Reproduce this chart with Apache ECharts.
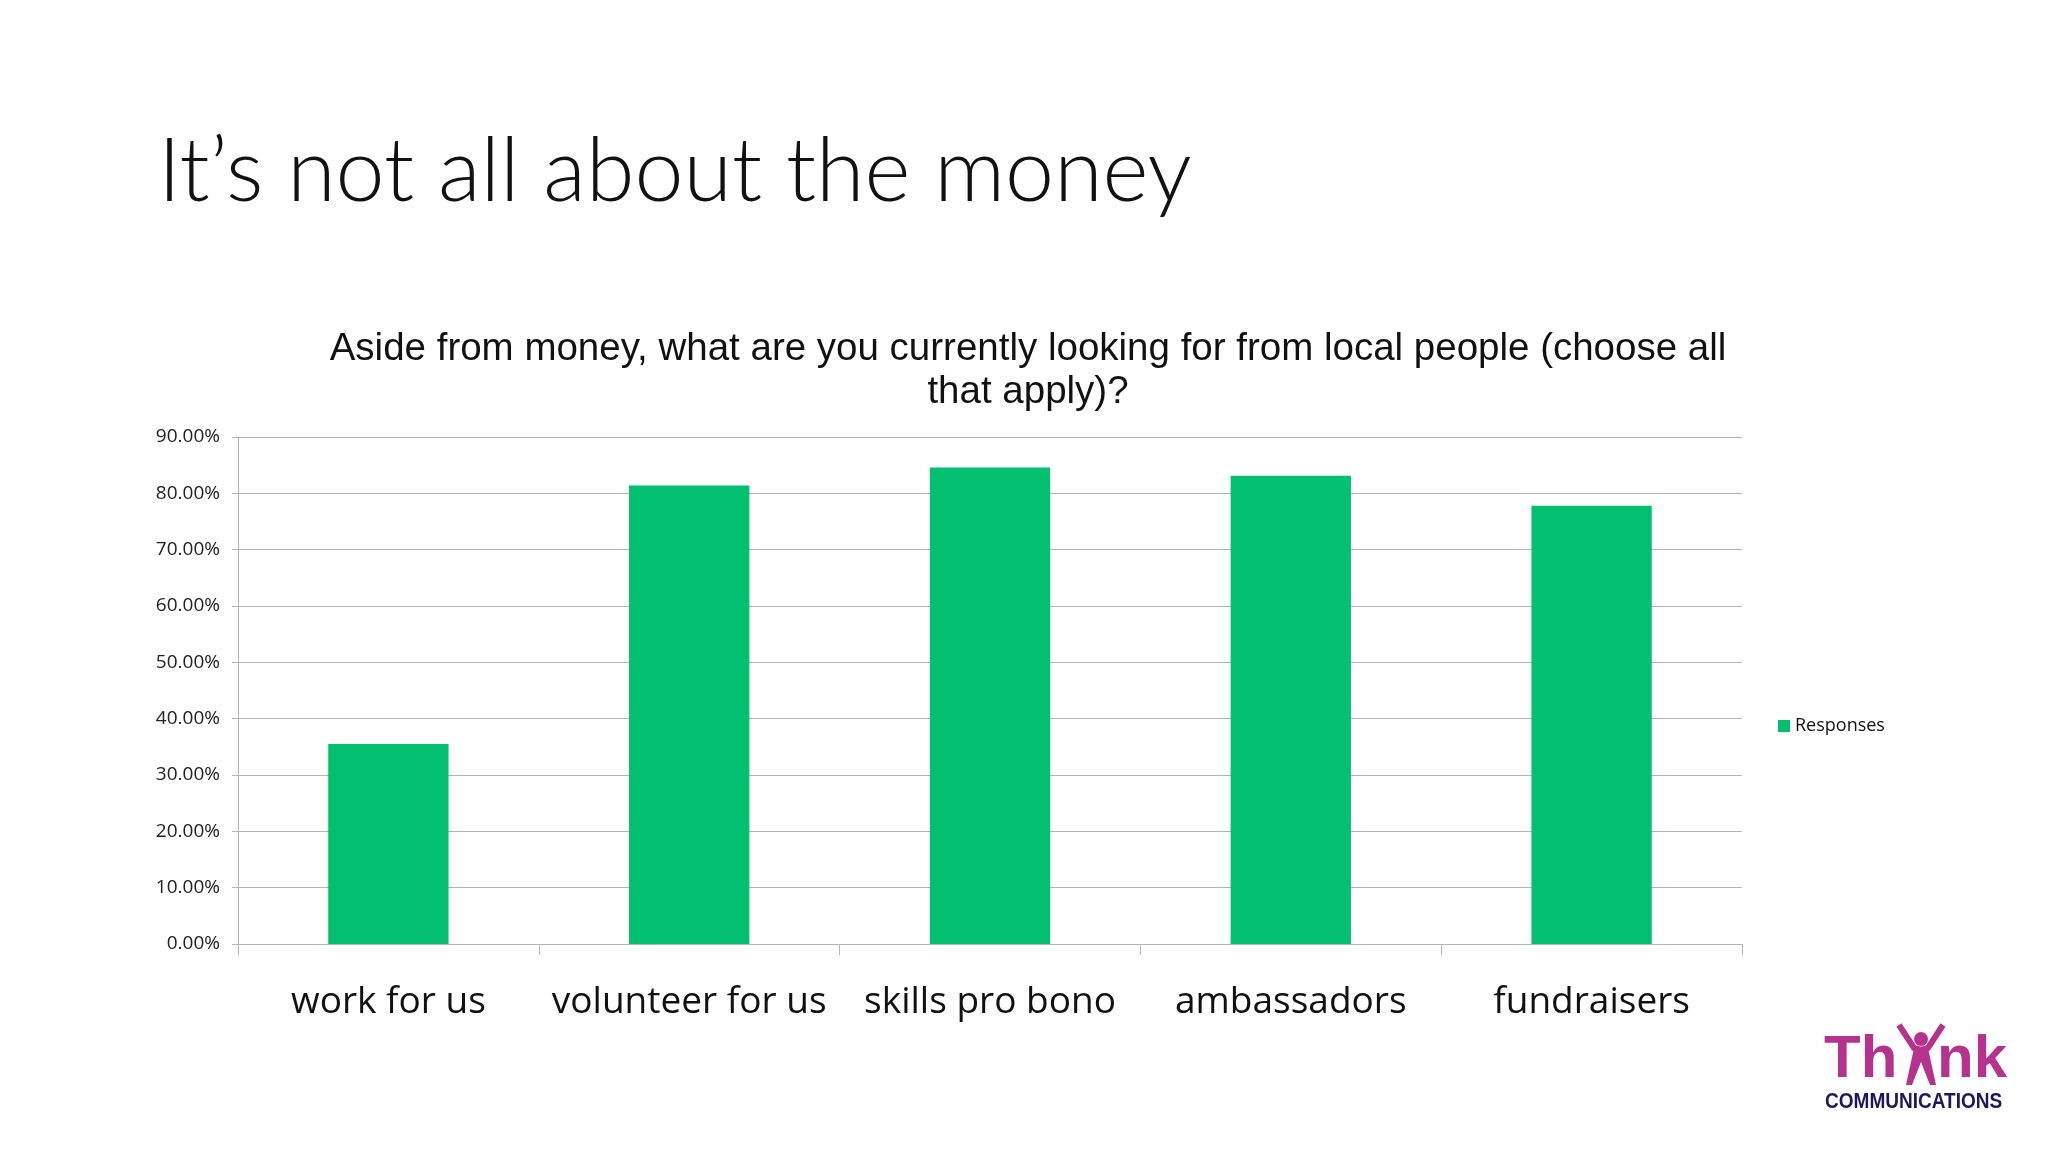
<!DOCTYPE html>
<html><head><meta charset="utf-8">
<script src="https://cdn.jsdelivr.net/npm/echarts@6/dist/echarts.min.js"></script>
<style>html,body{margin:0;padding:0;background:#fff}#c{width:2048px;height:1152px}</style>
</head><body><div id="c"></div>
<script>
const categories = ['work for us', 'volunteer for us', 'skills pro bono', 'ambassadors', 'fundraisers'];
const responses = [35.5, 81.4, 84.6, 83.1, 77.8];
const yTicks = { min: 0, max: 90, interval: 10 };
const seriesName = 'Responses';
const slideTitle = 'It\u2019s not all about the money';
const chartTitle = 'Aside from money, what are you currently looking for from local people (choose all\nthat apply)?';

const chart = echarts.init(document.getElementById('c'));
chart.setOption({
  backgroundColor: '#ffffff',
  animation: false,
  title: [
    { text: slideTitle, left: 153, top: 124,
      textStyle: { fontFamily: 'Lato', fontWeight: 300, fontSize: 88, color: '#111' } },
    { text: chartTitle, left: 1023, textAlign: 'center', top: 323,
      textStyle: { fontFamily: 'Liberation Sans', fontWeight: 'normal', fontSize: 38.5, lineHeight: 43, color: '#111', align: 'center' } }
  ],
  legend: {
    data: [seriesName], left: 1773, top: 712, orient: 'vertical',
    icon: 'rect', itemWidth: 12, itemHeight: 12, itemGap: 6,
    textStyle: { fontFamily: 'Open Sans', fontSize: 18, color: '#111' }
  },
  grid: { left: 238, right: 306, top: 437, bottom: 208, containLabel: false },
  xAxis: {
    type: 'category', data: categories, boundaryGap: true,
    axisLine: { lineStyle: { color: '#b3b3b3', width: 1 } },
    axisTick: { show: true, length: 11, lineStyle: { color: '#b3b3b3' } },
    axisLabel: { interval: 0, fontFamily: 'Open Sans', fontSize: 37, color: '#111', margin: 40 }
  },
  yAxis: {
    type: 'value', min: yTicks.min, max: yTicks.max, interval: yTicks.interval,
    axisLine: { show: true, lineStyle: { color: '#b3b3b3', width: 1 } },
    axisTick: { show: true, length: 6, lineStyle: { color: '#b3b3b3' } },
    splitLine: { lineStyle: { color: '#b3b3b3', width: 1 } },
    axisLabel: { fontFamily: 'Open Sans', fontSize: 19, color: '#222', margin: 18,
      formatter: v => v.toFixed(2) + '%' }
  },
  series: [{
    name: seriesName, type: 'bar', data: responses, barWidth: '40%',
    itemStyle: { color: '#03bf70' }
  }],
  graphic: [
    { type: 'text', left: 1824, top: 1030, style: { text: 'Th', fontFamily: 'Liberation Sans', fontWeight: 'bold', fontSize: 60, fill: '#b5338f' } },
    { type: 'circle', shape: { cx: 1921, cy: 1039, r: 7 }, style: { fill: '#b5338f' } },
    { type: 'polyline', shape: { points: [[1899, 1025], [1914, 1048], [1921, 1050], [1928, 1048], [1943, 1025]] }, style: { stroke: '#b5338f', lineWidth: 6, fill: null } },
    { type: 'polygon', shape: { points: [[1914, 1048], [1928, 1048], [1936, 1085], [1930, 1085], [1921, 1062], [1912, 1085], [1906, 1085]] }, style: { fill: '#b5338f' } },
    { type: 'text', left: 1937, top: 1030, style: { text: 'nk', fontFamily: 'Liberation Sans', fontWeight: 'bold', fontSize: 60, fill: '#b5338f' } },
    { type: 'text', x: 1825, y: 1091, scaleX: 0.865, originX: 0, originY: 0,
      style: { text: 'COMMUNICATIONS', fontFamily: 'Liberation Sans', fontWeight: 'bold', fontSize: 22, fill: '#21165e' } }
  ]
});
</script></body></html>
